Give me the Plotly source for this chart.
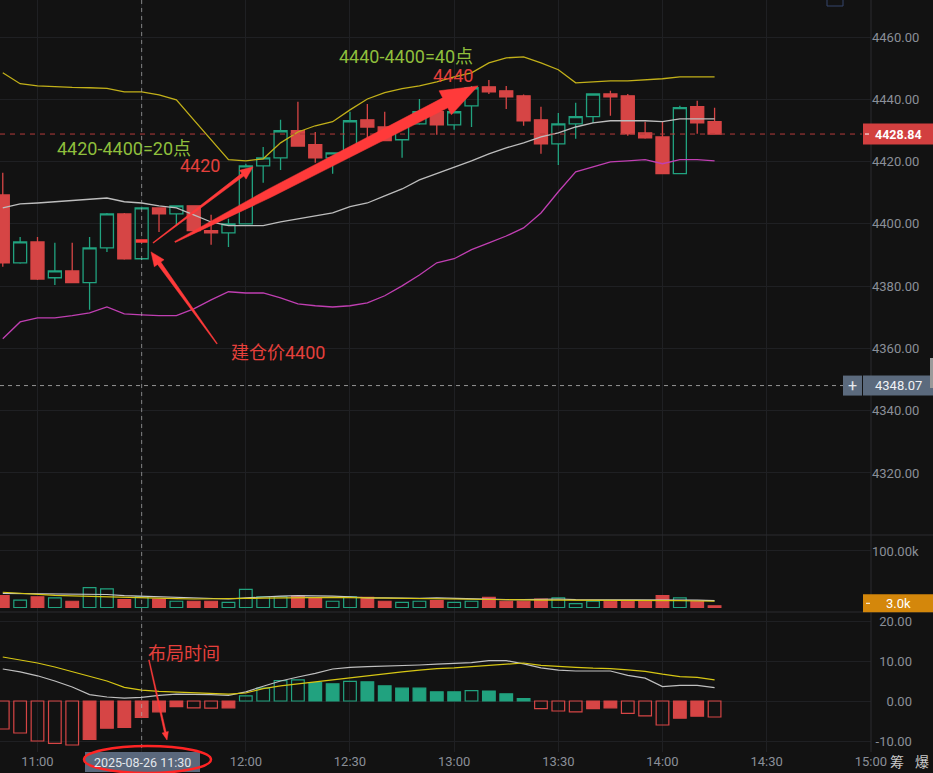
import math
import plotly.graph_objects as go

# ---------------- data ----------------
times = ["10:50", "10:55", "11:00", "11:05", "11:10", "11:15", "11:20", "11:25", "11:30", "11:35",
         "11:40", "11:45", "11:50", "11:55", "12:00", "12:05", "12:10", "12:15", "12:20", "12:25",
         "12:30", "12:35", "12:40", "12:45", "12:50", "12:55", "13:00", "13:05", "13:10", "13:15",
         "13:20", "13:25", "13:30", "13:35", "13:40", "13:45", "13:50", "13:55", "14:00", "14:05",
         "14:10", "14:15"]
opens = [4409.3, 4387.5, 4394.2, 4382.7, 4384.9, 4381.1, 4392.3, 4403.2, 4388.8, 4405.1,
         4403.2, 4405.8, 4397.8, 4397.1, 4400.0, 4418.6, 4421.2, 4429.9, 4425.4, 4421.2,
         4422.8, 4433.4, 4431.1, 4427.0, 4432.1, 4436.0, 4431.8, 4437.9, 4444.0, 4442.7,
         4441.1, 4433.4, 4425.7, 4432.1, 4434.4, 4441.7, 4441.1, 4429.2, 4427.9, 4416.1,
         4437.6, 4432.8]
highs = [4416.4, 4395.8, 4395.8, 4393.9, 4393.9, 4395.8, 4403.5, 4403.5, 4405.5, 4405.3,
         4406.0, 4406.0, 4402.9, 4401.6, 4419.3, 4424.7, 4433.4, 4439.2, 4429.5, 4423.0,
         4436.0, 4438.5, 4436.0, 4432.3, 4440.1, 4438.2, 4436.2, 4444.3, 4446.2, 4444.3,
         4441.5, 4437.6, 4435.6, 4438.9, 4441.7, 4442.7, 4441.7, 4432.8, 4432.8, 4437.9,
         4439.5, 4437.3]
lows = [4386.2, 4387.2, 4382.0, 4380.4, 4381.0, 4372.4, 4391.0, 4388.5, 4388.4, 4397.4,
        4399.4, 4397.0, 4393.3, 4392.6, 4399.8, 4413.2, 4417.3, 4424.8, 4419.6, 4416.1,
        4422.5, 4427.0, 4426.5, 4421.2, 4431.8, 4428.6, 4430.2, 4431.1, 4441.7, 4436.9,
        4431.5, 4422.5, 4418.9, 4427.3, 4432.4, 4434.7, 4428.3, 4427.3, 4416.1, 4416.1,
        4428.9, 4428.84]
closes = [4387.5, 4394.2, 4382.3, 4384.9, 4381.1, 4392.3, 4403.2, 4388.8, 4405.1, 4403.2,
          4405.8, 4397.8, 4397.1, 4400.0, 4418.6, 4421.2, 4429.9, 4425.0, 4421.2, 4422.8,
          4433.1, 4431.1, 4426.7, 4432.1, 4436.0, 4431.8, 4436.0, 4443.7, 4442.4, 4440.8,
          4433.1, 4425.7, 4432.1, 4434.4, 4441.7, 4440.8, 4428.9, 4427.6, 4416.1, 4437.3,
          4432.4, 4428.84]
boll_upper = [4448.5, 4445.0, 4444.3, 4444.0, 4443.8, 4443.7, 4443.5, 4442.4, 4442.4, 4441.4,
              4439.8, 4433.4, 4427.0, 4420.6, 4420.2, 4420.9, 4426.0, 4429.5, 4431.5, 4432.8,
              4436.6, 4440.1, 4442.1, 4443.4, 4444.3, 4445.6, 4447.2, 4448.5, 4451.7, 4453.3,
              4453.6, 4451.7, 4449.5, 4445.3, 4445.6, 4445.9, 4445.9, 4446.2, 4446.6, 4447.2,
              4447.2, 4447.2]
boll_mid = [4405.1, 4406.4, 4406.7, 4407.1, 4407.4, 4407.7, 4408.3, 4407.1, 4406.7, 4405.8,
            4405.1, 4402.9, 4400.6, 4399.4, 4399.4, 4399.4, 4400.6, 4401.6, 4402.6, 4403.5,
            4405.5, 4406.7, 4409.0, 4411.2, 4414.1, 4416.1, 4418.0, 4420.2, 4422.5, 4424.4,
            4426.0, 4427.9, 4429.2, 4431.1, 4432.4, 4433.1, 4433.1, 4433.1, 4432.8, 4433.7,
            4433.7, 4433.7]
boll_lower = [4363.1, 4368.5, 4369.8, 4369.8, 4370.5, 4371.4, 4373.3, 4371.1, 4370.8, 4370.5,
              4370.5, 4372.7, 4375.6, 4378.2, 4377.8, 4377.8, 4376.2, 4374.3, 4373.7, 4373.3,
              4373.7, 4374.6, 4376.9, 4380.1, 4383.6, 4387.5, 4388.8, 4391.7, 4393.9, 4396.1,
              4398.7, 4403.5, 4410.3, 4416.7, 4418.3, 4419.9, 4420.2, 4420.6, 4419.3, 4420.6,
              4420.6, 4420.2]
volumes_k = [21, 13, 19, 17, 11, 35, 33, 14, 19, 15, 11, 11, 11, 9, 32, 19, 19, 20, 17, 11,
             19, 18, 11, 9, 11, 12, 9, 11, 18, 11, 11, 15, 17, 7, 11, 11, 11, 11, 21, 17, 11, 3]
vol_ma_white = [25, 24.5, 24, 23.5, 23, 23, 23, 21, 20, 18, 17, 16, 15.5, 15, 17, 19, 20, 21, 21, 20,
                19, 17, 17, 16, 16, 17, 16, 15, 14, 14, 14, 15, 15, 14, 14, 13, 13, 13, 13, 14, 13, 12]
vol_ma_yellow = [27, 25, 23, 21.5, 20.5, 19.5, 19, 18, 17, 16, 15.5, 15, 15, 15.5, 16, 16.5, 17, 17.5,
                 18, 18, 17.5, 17, 16.5, 16, 15.5, 15, 14.5, 14, 14, 13.5, 13.5, 13, 13, 13, 13,
                 12.5, 12.5, 12, 12, 12, 11.5, 11]
macd_dif = [8.0, 7.3, 6.3, 5.0, 3.5, 1.6, 1.0, 0.7, 0.9, 1.4, 1.7, 1.7, 1.6, 1.4, 2.3, 3.7, 5.0, 6.0,
            6.9, 8.0, 8.4, 8.6, 8.7, 8.8, 9.0, 9.2, 9.4, 9.6, 10.1, 10.1, 9.3, 8.3, 7.7, 7.5, 7.5,
            7.5, 6.4, 5.7, 3.6, 3.9, 3.9, 3.35]
macd_dea = [11.0, 10.2, 9.5, 8.5, 7.3, 6.2, 5.0, 3.4, 2.7, 2.4, 2.2, 2.1, 1.9, 1.7, 2.0, 3.1, 3.8,
            4.3, 4.8, 5.4, 5.8, 6.3, 6.8, 7.3, 7.7, 8.1, 8.3, 8.6, 8.9, 9.2, 9.5, 8.9, 8.6, 8.4,
            8.2, 8.1, 7.8, 7.4, 6.7, 6.1, 5.9, 5.3]
macd_hist = [-7.0, -8.0, -10.0, -10.6, -11.0, -9.6, -6.8, -6.6, -4.1, -2.7, -1.4, -1.7, -1.8, -1.7,
             1.3, 3.2, 5.1, 5.3, 4.6, 4.3, 4.9, 4.8, 3.8, 3.2, 3.2, 2.3, 2.3, 2.6, 2.5, 1.8, 0.6,
             -1.9, -2.5, -2.7, -1.9, -1.7, -3.1, -3.7, -6.0, -4.3, -3.8, -4.0]

last_price = 4428.84
last_volume_label = "3.0k"
cross_time = "11:30"
cross_price = 4348.07
cross_label = "2025-08-26 11:30"
entry_marker_price = 4394.5

price_ticks = [4320, 4340, 4360, 4380, 4400, 4420, 4440, 4460]
volume_ticks = [100]
macd_ticks = [20, 10, 0, -10]
time_ticks = ["11:00", "11:30", "12:00", "12:30", "13:00", "13:30", "14:00", "14:30", "15:00"]

notes = [  # (text, time-minute, value, axis, colour)
    ("4420-4400=20点", 684.9, 4424.1, "price", "#8fbf3c"),
    ("4420", 706.8, 4418.6, "price", "#e5403c"),
    ("4440-4400=40点", 766.1, 4453.6, "price", "#8fbf3c"),
    ("4440", 779.7, 4447.5, "price", "#e5403c"),
    ("建仓价4400", 729.3, 4358.6, "price", "#e5403c"),
    ("布局时间", 702.2, 12.0, "macd", "#e5403c"),
]
arrows = [  # tail, tip (time-minute, value), axis
    dict(tail=(693.3, 4393.9), tip=(722.1, 4418.3), axis="price", shaft=[(0, 0.4), (1, 1.7)], hw=5.5, hl=13),
    dict(tail=(699.6, 4394.2), tip=(786.9, 4444.3), axis="price",
         shaft=[(0, 0.6), (0.35, 4.3), (1, 5.6)], hw=13.5, hl=37),
    dict(tail=(711.7, 4361.5), tip=(692.7, 4391.0), axis="price", shaft=[(0, 0.4), (1, 2.0)], hw=6, hl=14),
    dict(tail=(692.1, 10.25), tip=(697.3, -9.75), axis="macd", shaft=[(0, 0.4), (1, 0.9)], hw=3.2, hl=8),
]

# ---------------- style / layout ----------------
BG = "#121212"
GRID = "#1f2023"
SEP = "#2a2b2f"
TICK = "#8a8f98"
GREEN = "#21a27f"
RED = "#d64545"
TRANSP = "rgba(0,0,0,0)"
FONT = "Roboto, 'Noto Sans CJK SC', sans-serif"

FIG_W, FIG_H = 933, 773
M_R, M_B = 62, 21
PW, PH = FIG_W - M_R, FIG_H - M_B
PRICE_BOT, VOL_BOT = 535, 612

X0, X1 = 649.202, 900.05
ranges = {"price": (4300.09, 4471.88), "vol": (-8.0, 128.3), "macd": (-12.75, 22.25)}
domains = {"price": [(PH - PRICE_BOT) / PH, 1.0],
           "vol": [(PH - VOL_BOT) / PH, (PH - PRICE_BOT) / PH],
           "macd": [0.0, (PH - VOL_BOT) / PH]}


def tmin(s):
    h, m = s.split(":")
    return int(h) * 60 + int(m)


def px_x(m):
    return (m - X0) / (X1 - X0) * PW


def px_y(v, axis):
    lo, hi = ranges[axis]
    d0, d1 = domains[axis]
    paper = d0 + (v - lo) / (hi - lo) * (d1 - d0)
    return (1 - paper) * PH


def pap_x(px):
    return px / PW


def pap_y(py):
    return 1 - py / PH


x = [tmin(t) for t in times]
up = [c >= o for o, c in zip(opens, closes)]

fig = go.Figure()
fig.add_trace(go.Candlestick(
    x=x, open=opens, high=highs, low=lows, close=closes, xaxis="x", yaxis="y",
    increasing=dict(line=dict(color=GREEN, width=1.3), fillcolor=TRANSP),
    decreasing=dict(line=dict(color=RED, width=1.3), fillcolor=RED),
    whiskerwidth=0, hoverinfo="skip"))
for vals, col in [(boll_upper, "#c2b019"), (boll_mid, "#bdbdbd"), (boll_lower, "#c03fb2")]:
    fig.add_trace(go.Scatter(x=x, y=vals, mode="lines", line=dict(color=col, width=1.3),
                             xaxis="x", yaxis="y", hoverinfo="skip"))

BAR_W = 3.65
fig.add_trace(go.Bar(
    x=x, y=volumes_k, width=BAR_W, xaxis="x", yaxis="y2",
    marker=dict(color=[TRANSP if u else RED for u in up],
                line=dict(color=[GREEN if u else RED for u in up], width=1.2)),
    hoverinfo="skip"))
for vals, col in [(vol_ma_white, "#c8c8c8"), (vol_ma_yellow, "#d6c614")]:
    fig.add_trace(go.Scatter(x=x, y=vals, mode="lines", line=dict(color=col, width=1.2),
                             xaxis="x", yaxis="y2", hoverinfo="skip"))

hollow = []
for i, h in enumerate(macd_hist):
    prev = macd_hist[i - 1] if i else 0
    hollow.append(h > prev if h >= 0 else h < prev)
hist_col = [GREEN if h >= 0 else RED for h in macd_hist]
fig.add_trace(go.Bar(
    x=x, y=macd_hist, width=BAR_W, xaxis="x", yaxis="y3",
    marker=dict(color=[TRANSP if hl else c for hl, c in zip(hollow, hist_col)],
                line=dict(color=hist_col, width=1.2)),
    hoverinfo="skip"))
for vals, col in [(macd_dif, "#bfbfbf"), (macd_dea, "#d6c614")]:
    fig.add_trace(go.Scatter(x=x, y=vals, mode="lines", line=dict(color=col, width=1.2),
                             xaxis="x", yaxis="y3", hoverinfo="skip"))

# ---------------- shapes ----------------
shapes = []


def rect(px0, px1, py0, py1, fill, line=None, lw=0):
    shapes.append(dict(type="rect", xref="paper", yref="paper", x0=pap_x(px0), x1=pap_x(px1),
                       y0=pap_y(py1), y1=pap_y(py0), fillcolor=fill,
                       line=dict(color=line or fill, width=lw), layer="above"))


def seg(px0, py0, px1, py1, color, width=1, dash="solid"):
    shapes.append(dict(type="line", xref="paper", yref="paper", x0=pap_x(px0), x1=pap_x(px1),
                       y0=pap_y(py0), y1=pap_y(py1), line=dict(color=color, width=width, dash=dash),
                       layer="above"))


# pane separators & right border
for py in (PRICE_BOT, VOL_BOT):
    seg(0, py, FIG_W, py, SEP, 1)
seg(PW, 0, PW, PH, SEP, 1)

# last price line, crosshair
py_last = px_y(last_price, "price")
seg(0, py_last, 862, py_last, "#b53a3a", 1, "5px,5px")
py_cross = px_y(cross_price, "price")
seg(0, py_cross, 843, py_cross, "rgba(180,180,180,0.8)", 1, "4px,4px")
cx = px_x(tmin(cross_time))
seg(cx, 0, cx, PH, "rgba(175,175,175,0.7)", 1, "4px,4px")

# entry marker on the crosshair candle
ex0, ex1 = px_x(tmin(cross_time) - 1.7), px_x(tmin(cross_time) + 1.7)
ey = px_y(entry_marker_price, "price")
seg(ex0, ey, ex1, ey, "#ff3b3b", 3.5)

# tapered arrows
ARROW = "#ff3a3a"
for a in arrows:
    x0p, y0p = px_x(a["tail"][0]), px_y(a["tail"][1], a["axis"])
    x1p, y1p = px_x(a["tip"][0]), px_y(a["tip"][1], a["axis"])
    dx, dy = x1p - x0p, y1p - y0p
    L = math.hypot(dx, dy)
    ux, uy = dx / L, dy / L
    nx, ny = -uy, ux
    shaft_len = L - a["hl"]
    left, right = [], []
    for f, w in a["shaft"]:
        cxp, cyp = x0p + ux * shaft_len * f, y0p + uy * shaft_len * f
        left.append((cxp + nx * w, cyp + ny * w))
        right.append((cxp - nx * w, cyp - ny * w))
    bx, by = x0p + ux * shaft_len, y0p + uy * shaft_len
    pts = left + [(bx + nx * a["hw"], by + ny * a["hw"]), (x1p, y1p),
                  (bx - nx * a["hw"], by - ny * a["hw"])] + right[::-1]
    path = "M " + " L ".join(f"{pap_x(p[0]):.5f},{pap_y(p[1]):.5f}" for p in pts) + " Z"
    shapes.append(dict(type="path", xref="paper", yref="paper", path=path,
                       fillcolor=ARROW, line=dict(color=ARROW, width=0.5), layer="above"))

# right-axis value boxes
rect(863, FIG_W, py_last - 10.5, py_last + 10.5, "#d23f3f")
seg(865, py_last, 869, py_last, "#ffffff", 1)
rect(863, FIG_W, py_cross - 10, py_cross + 10, "#5b6a7d")
rect(843, 862, py_cross - 10, py_cross + 10, "#5b6a7d")
py_vol = px_y(3.0, "vol") - 2.5
rect(863, FIG_W, py_vol - 9, py_vol + 9, "#d4870b")
seg(866, py_vol, 870, py_vol, "#ffffff", 1)

# crosshair time label + red ellipse
rect(85, 200, 752, 772, "#5a687c")
shapes.append(dict(type="circle", xref="paper", yref="paper", x0=pap_x(84), x1=pap_x(211),
                   y0=pap_y(773), y1=pap_y(746), line=dict(color="#ff2424", width=2.5),
                   fillcolor=TRANSP, layer="above"))

# small ui bits
rect(827, 843, -2, 6, TRANSP, "#34446a", 1)
rect(930, FIG_W, 358, 388, "#9a9a9a")

# ---------------- annotations ----------------
ann = []
for text, tm, val, axis, col in notes:
    ann.append(dict(x=tm, y=val, xref="x", yref="y" if axis == "price" else "y3", text=text,
                    showarrow=False, font=dict(family=FONT, size=18, color=col),
                    xanchor="center", yanchor="middle"))


def label(px, py, text, color="#ffffff", size=12.5, bold=False):
    ann.append(dict(x=pap_x(px), y=pap_y(py), xref="paper", yref="paper",
                    text=f"<b>{text}</b>" if bold else text, showarrow=False,
                    font=dict(family=FONT, size=size, color=color),
                    xanchor="center", yanchor="middle"))


label(898, py_last, f"{last_price:.2f}", bold=True)
label(898, py_cross, f"{cross_price:.2f}", color="#f0f2f5", size=13)
label(852.5, py_cross, "+", color="#e6e9ee", size=16)
label(898, py_vol, last_volume_label, color="#ffffff", size=13)
label(142.5, 762, cross_label, color="#e3e7ec", size=12.5)
label(897, 762, "筹", color="#c9c9c9", size=14)
label(922, 762, "爆", color="#c9c9c9", size=14)

FS = "\u2007"
macd_text = {20: FS + "20.00", 10: FS + "10.00", 0: FS + FS + "0.00", -10: "\u2008-10.00"}

axis_common = dict(showgrid=True, gridcolor=GRID, gridwidth=1, zeroline=False, showline=False,
                   ticks="", tickfont=dict(family=FONT, size=13, color=TICK), fixedrange=True)

fig.update_layout(
    width=FIG_W, height=FIG_H, margin=dict(l=0, r=M_R, t=0, b=M_B),
    paper_bgcolor=BG, plot_bgcolor=BG, showlegend=False, hovermode=False,
    barmode="overlay", boxgap=0.25, boxgroupgap=0,
    font=dict(family=FONT, color=TICK, size=13),
    xaxis=dict(domain=[0, 1], anchor="y3", range=[X0, X1],
               tickvals=[tmin(t) for t in time_ticks],
               ticktext=["" if t == cross_time else t for t in time_ticks],
               rangeslider=dict(visible=False), **axis_common),
    yaxis=dict(domain=domains["price"], anchor="x", side="right", range=list(ranges["price"]),
               tickvals=price_ticks, ticktext=[f"{v:.2f}" for v in price_ticks], **axis_common),
    yaxis2=dict(domain=domains["vol"], anchor="x", side="right", range=list(ranges["vol"]),
                tickvals=volume_ticks, ticktext=[f"{v:.2f}k" for v in volume_ticks], **axis_common),
    yaxis3=dict(domain=domains["macd"], anchor="x", side="right", range=list(ranges["macd"]),
                tickvals=macd_ticks, ticktext=[macd_text[v] for v in macd_ticks], **axis_common),
    shapes=shapes, annotations=ann,
)

fig.write_html(
    "out.html",
    config={"displayModeBar": False, "staticPlot": True},
    post_script="document.body.style.margin='0';document.body.style.overflow='hidden';"
                "document.body.style.background='" + BG + "';",
)
